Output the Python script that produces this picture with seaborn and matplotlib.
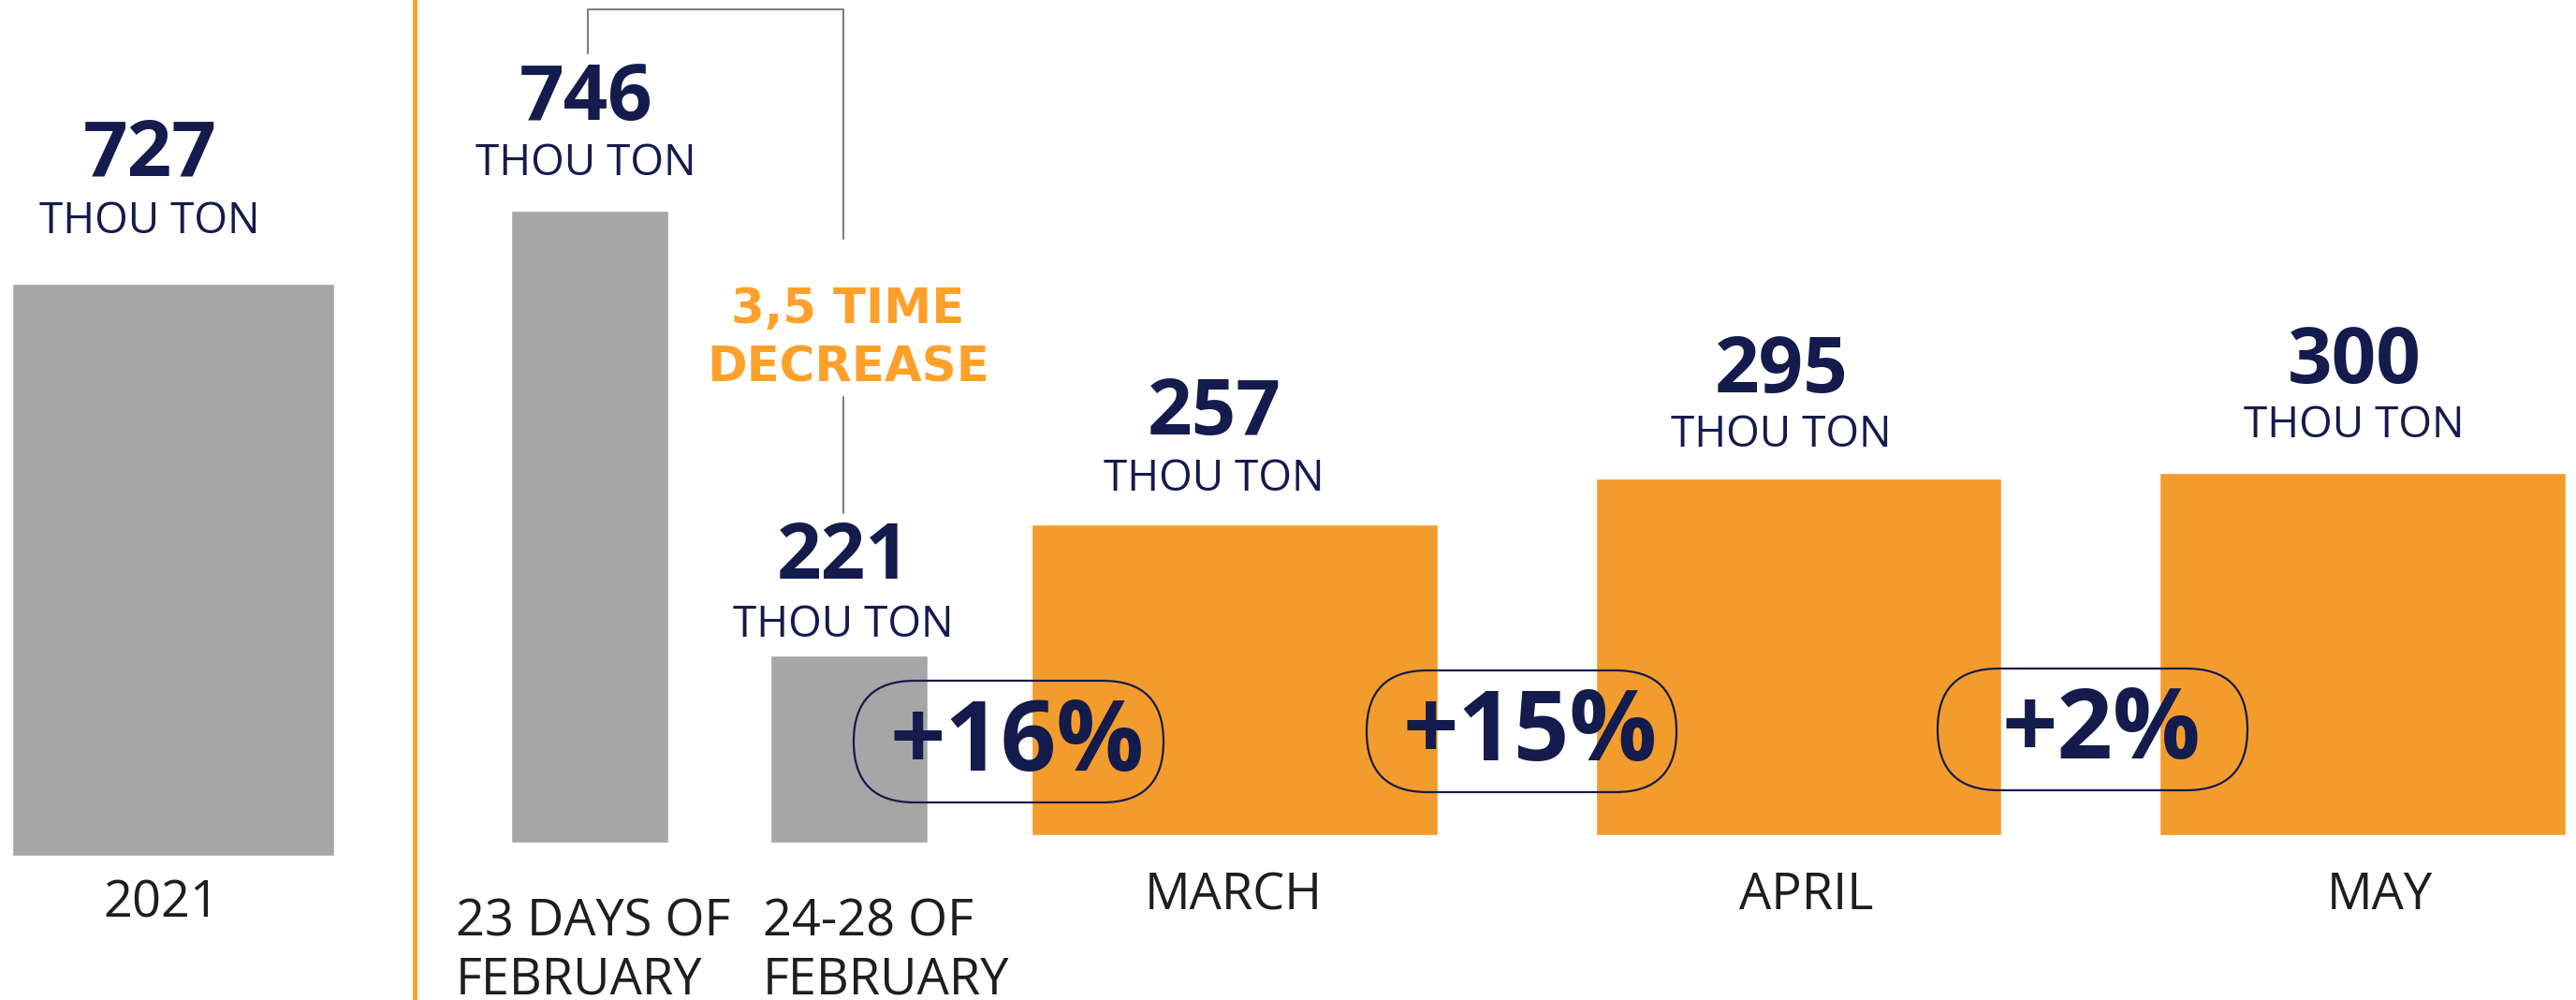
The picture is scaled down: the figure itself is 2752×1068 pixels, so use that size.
import matplotlib
matplotlib.use("Agg")
import matplotlib.pyplot as plt
from matplotlib.patches import FancyBboxPatch
import seaborn as sns
import pandas as pd

# values (thousand tons)
year_cats = ["2021"]
year_vals = [727]
feb_cats = ["23 DAYS OF\nFEBRUARY", "24-28 OF\nFEBRUARY"]
feb_vals = [746, 221]
month_cats = ["MARCH", "APRIL", "MAY"]
month_vals = [257, 295, 300]
growth_labels = ["+16%", "+15%", "+2%"]
drop_label = "3,5 TIME\nDECREASE"
unit = "THOU TON"

GREY = "#A6A6A6"
ORANGE = "#F39C2E"
ORANGE_TXT = "#FFA02A"
NAVY = "#141B4D"
DARK = "#1E1E1E"

W, H = 2752, 1068

sns.set_style("white")
plt.rcParams["font.family"] = ["Open Sans", "DejaVu Sans"]

fig = plt.figure(figsize=(W / 100, H / 100), dpi=100)


def px_axes(left, right, bottom, top):
    return fig.add_axes([left / W, (H - bottom) / H, (right - left) / W, (bottom - top) / H])


def bars(ax, cats, vals, color, width, xlim, ylim):
    df = pd.DataFrame({"cat": cats, "val": vals})
    sns.barplot(data=df, x="cat", y="val", color=color, width=width,
                saturation=1, ax=ax, errorbar=None)
    ax.set_xlim(*xlim)
    ax.set_ylim(*ylim)
    ax.axis("off")


# three panels, each on its own scale like the original
ax_year = px_axes(13, 357, 914, 303)
bars(ax_year, year_cats, year_vals, GREY, 1.0, (-0.5, 0.5), (0, 727))

ax_feb = px_axes(491.5, 1045.5, 900, 176)
bars(ax_feb, feb_cats, feb_vals, GREY, 0.61, (-0.5, 1.5), (0, 800))

ax_mon = px_axes(1018, 2825, 892, 440)
bars(ax_mon, month_cats, month_vals, ORANGE, 0.72, (-0.5, 2.5), (0, 350))

# overlay in pixel units for the annotations
ov = fig.add_axes([0, 0, 1, 1])
ov.set_xlim(0, W)
ov.set_ylim(H, 0)
ov.axis("off")

ov.axvline(443, color="#F7A033", lw=3.5)

# bracket between the two February bars
ov.plot([628, 628, 901, 901], [57, 10, 10, 255], color="#808080", lw=1.5)
ov.plot([901, 901], [424, 548], color="#808080", lw=1.5)
ov.text(906, 345, drop_label.split("\n")[0], color=ORANGE_TXT, fontsize=37,
        fontweight="bold", family="DejaVu Sans", ha="center", va="baseline")
ov.text(906, 408, drop_label.split("\n")[1], color=ORANGE_TXT, fontsize=37,
        fontweight="bold", family="DejaVu Sans", ha="center", va="baseline")

# value labels: (x centre, number baseline, unit baseline)
all_vals = year_vals + feb_vals + month_vals
label_pos = [(160, 187, 249), (626, 128, 187), (901, 618, 680),
             (1297, 464, 524), (1903, 419, 477), (2515, 409, 467)]
for v, (x, yb, yu) in zip(all_vals, label_pos):
    ov.text(x, yb, f"{v}", color=NAVY, fontsize=60, fontweight="bold",
            ha="center", va="baseline")
    ov.text(x, yu, unit, color=NAVY, fontsize=33, ha="center", va="baseline")

# category labels
ov.text(172, 979, year_cats[0], color=DARK, fontsize=39, ha="center", va="baseline")
for cat, x in zip(feb_cats, [487, 815]):
    l1, l2 = cat.split("\n")
    ov.text(x, 1000, l1, color=DARK, fontsize=39, ha="left", va="baseline")
    ov.text(x, 1062, l2, color=DARK, fontsize=39, ha="left", va="baseline")
for cat, x in zip(month_cats, [1318, 1930, 2542]):
    ov.text(x, 971, cat, color=DARK, fontsize=39, ha="center", va="baseline")

# growth pills
pills = [(912, 727), (1460, 716), (2070, 714)]
for lab, (x0, y0) in zip(growth_labels, pills):
    ov.add_patch(FancyBboxPatch((x0, y0), 331, 130,
                                boxstyle="round,pad=0,rounding_size=65",
                                fc="none", ec=NAVY, lw=1.6))
    ov.text(x0 + 165 + 10, y0 + 96, lab, color=NAVY, fontsize=75,
            fontweight="bold", ha="center", va="baseline")

fig.savefig("out.png", dpi=100)
